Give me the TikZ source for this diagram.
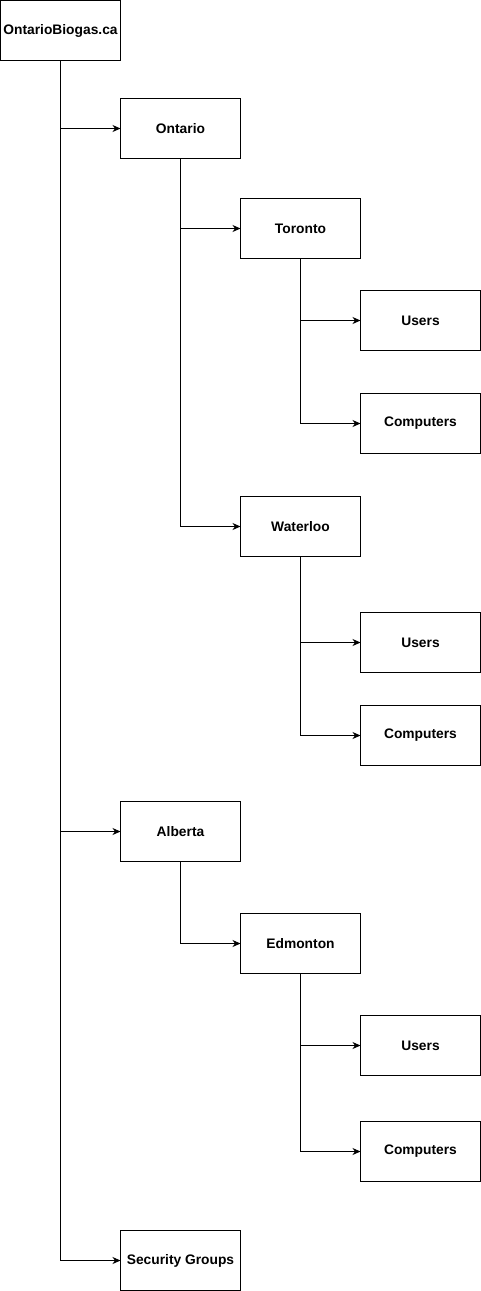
\documentclass[tikz,border=0pt]{standalone}
\usepackage{fontspec}
\setmainfont{Liberation Sans}
\usetikzlibrary{arrows.meta}
\begin{document}
\begin{tikzpicture}[x=1pt,y=-1pt,
  box/.style={draw=black,line width=1pt,minimum width=120pt,minimum height=60pt,inner sep=0pt,outer sep=0pt,font=\fontsize{13.8}{16}\selectfont\bfseries,anchor=north west},
  conn/.style={draw=black,line width=1pt,-{Stealth[length=8pt,width=7pt,inset=2.5pt]}}]
\useasboundingbox (0,0) rectangle (481,1291);
\node[box] (root) at (0.5,0.5) {OntarioBiogas.ca};
\node[box] (ont) at (120.5,98.5) {Ontario};
\node[box] (tor) at (240.5,198.5) {Toronto};
\node[box] (tu) at (360.5,290.5) {Users};
\node[box] (tc) at (360.5,393.5) {Computers};
\node[box] (wat) at (240.5,496.5) {Waterloo};
\node[box] (wu) at (360.5,612.5) {Users};
\node[box] (wc) at (360.5,705.5) {Computers};
\node[box] (alb) at (120.5,801.5) {Alberta};
\node[box] (edm) at (240.5,913.5) {Edmonton};
\node[box] (eu) at (360.5,1015.5) {Users};
\node[box] (ec) at (360.5,1121.5) {Computers};
\node[box] (sec) at (120.5,1230.5) {Security Groups};
\draw[conn] (root.south) |- (ont.west);
\draw[conn] (root.south) |- (alb.west);
\draw[conn] (root.south) |- (sec.west);
\draw[conn] (ont.south) |- (tor.west);
\draw[conn] (ont.south) |- (wat.west);
\draw[conn] (tor.south) |- (tu.west);
\draw[conn] (tor.south) |- (tc.west);
\draw[conn] (wat.south) |- (wu.west);
\draw[conn] (wat.south) |- (wc.west);
\draw[conn] (alb.south) |- (edm.west);
\draw[conn] (edm.south) |- (eu.west);
\draw[conn] (edm.south) |- (ec.west);
\end{tikzpicture}
\end{document}
